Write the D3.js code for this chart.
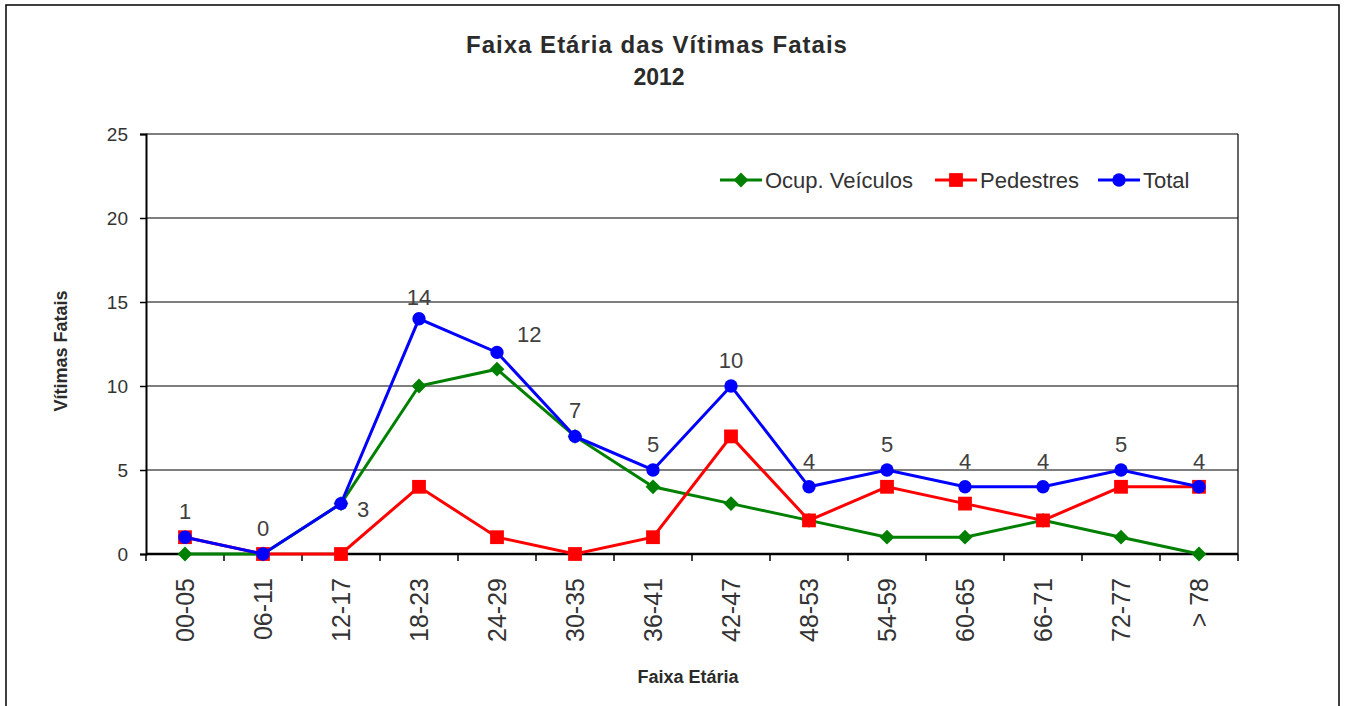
<!DOCTYPE html>
<html><head><meta charset="utf-8">
<script src="https://cdn.jsdelivr.net/npm/d3@7/dist/d3.min.js"></script>
<style>body{margin:0;background:#fff}svg{display:block}text{font-family:"Liberation Sans",Arial,sans-serif}</style>
</head><body><svg id="c" width="1345" height="706"></svg>
<script>
const categories = ["00-05","06-11","12-17","18-23","24-29","30-35","36-41","42-47","48-53","54-59","60-65","66-71","72-77","> 78"];
const ocupVeiculos = [0,0,3,10,11,7,4,3,2,1,1,2,1,0];
const pedestres = [1,0,0,4,1,0,1,7,2,4,3,2,4,4];
const total = [1,0,3,14,12,7,5,10,4,5,4,4,5,4];
const yTicks = [0,5,10,15,20,25];
const seriesNames = ["Ocup. Veículos","Pedestres","Total"];

const svg = d3.select("#c");
const L=146, R=1238, T=134, B=554;
svg.append("rect").attr("x",6).attr("y",5).attr("width",1333).attr("height",710).attr("fill","#fff").attr("stroke","#000").attr("stroke-width",1.5);

const x = d3.scaleBand().domain(categories).range([L,R]);
const y = d3.scaleLinear().domain([0,25]).range([B,T]);
const cx = d => x(d)+x.bandwidth()/2;

svg.append("text").attr("x",657).attr("y",53).attr("text-anchor","middle").attr("font-size",24).attr("font-weight","bold").attr("letter-spacing","1px").attr("fill","#2b2b2b").text("Faixa Etária das Vítimas Fatais");
svg.append("text").attr("x",659).attr("y",85).attr("text-anchor","middle").attr("font-size",23).attr("font-weight","bold").attr("fill","#2b2b2b").text("2012");

// gridlines
svg.append("g").selectAll("line").data(yTicks.filter(t=>t>0)).join("line")
  .attr("x1",L).attr("x2",R).attr("y1",d=>y(d)).attr("y2",d=>y(d)).attr("stroke","#000").attr("stroke-width",1.2);
svg.append("line").attr("x1",R).attr("x2",R).attr("y1",T).attr("y2",B).attr("stroke","#000").attr("stroke-width",1.2);

const ya = svg.append("g").attr("transform",`translate(${L},0)`).call(d3.axisLeft(y).tickValues(yTicks).tickSize(6).tickPadding(12));
ya.select(".domain").attr("stroke","#000").attr("stroke-width",2);
ya.selectAll(".tick line").attr("stroke","#000").attr("stroke-width",1.5);
ya.selectAll("text").attr("font-size",19).attr("fill","#333").style("font-family","Liberation Sans, Arial");

const xa = svg.append("g").attr("transform",`translate(0,${B})`).call(d3.axisBottom(x).tickSize(0).tickPadding(0));
xa.select(".domain").remove();
xa.selectAll("text").attr("font-size",25).attr("fill","#333").style("font-family","Liberation Sans, Arial")
  .attr("transform","rotate(-90)").attr("text-anchor","end").attr("x",-24).attr("y",0).attr("dy","0.35em");
svg.append("g").selectAll("line").data(d3.range(categories.length+1)).join("line")
  .attr("x1",i=>L+i*x.bandwidth()).attr("x2",i=>L+i*x.bandwidth()).attr("y1",B).attr("y2",B+7).attr("stroke","#000").attr("stroke-width",1.5);
svg.append("line").attr("x1",L).attr("x2",R).attr("y1",B).attr("y2",B).attr("stroke","#000").attr("stroke-width",2.5);

svg.append("text").attr("transform","translate(67,351) rotate(-90)").attr("text-anchor","middle").attr("font-size",18).attr("font-weight","bold").attr("fill","#2b2b2b").text("Vítimas Fatais");
svg.append("text").attr("x",688).attr("y",683).attr("text-anchor","middle").attr("font-size",18).attr("font-weight","bold").attr("fill","#2b2b2b").text("Faixa Etária");

const line = d3.line().x((d,i)=>cx(categories[i])).y(d=>y(d));
const series = [
  {vals:ocupVeiculos,color:"#008000",sym:d3.symbol().type(d3.symbolSquare).size(110),rot:45},
  {vals:pedestres,color:"#ff0000",sym:d3.symbol().type(d3.symbolSquare).size(190),rot:0},
  {vals:total,color:"#0000ff",sym:d3.symbol().type(d3.symbolCircle).size(140),rot:0}
];
series.forEach(s=>{
  svg.append("path").datum(s.vals).attr("d",line).attr("fill","none").attr("stroke",s.color).attr("stroke-width",3);
  svg.append("g").selectAll("path").data(s.vals).join("path")
    .attr("d",s.sym).attr("fill",s.color)
    .attr("transform",(d,i)=>`translate(${cx(categories[i])},${y(d)}) rotate(${s.rot})`);
});

// data labels for total
svg.append("g").selectAll("text").data(total).join("text")
  .attr("font-size",22).attr("fill","#404040")
  .attr("x",(d,i)=> i===2 ? cx(categories[i])+16 : i===4 ? cx(categories[i])+20 : cx(categories[i]))
  .attr("y",(d,i)=> i===2 ? y(d)+13 : i===4 ? y(d)-10 : i===3 ? y(d)-14 : y(d)-18)
  .attr("text-anchor",(d,i)=> (i===2||i===4) ? "start" : "middle")
  .text(d=>d);

// legend
const lg = svg.append("g");
const lx = [720,935,1098];
series.forEach((s,i)=>{
  const g = lg.append("g").attr("transform",`translate(${lx[i]},180)`);
  g.append("line").attr("x1",0).attr("x2",42).attr("stroke",s.color).attr("stroke-width",3);
  g.append("path").attr("d",s.sym).attr("fill",s.color).attr("transform",`translate(21,0) rotate(${s.rot})`);
  g.append("text").attr("x",45).attr("y",8).attr("font-size",22).attr("fill","#333").text(seriesNames[i]);
});
</script></body></html>
